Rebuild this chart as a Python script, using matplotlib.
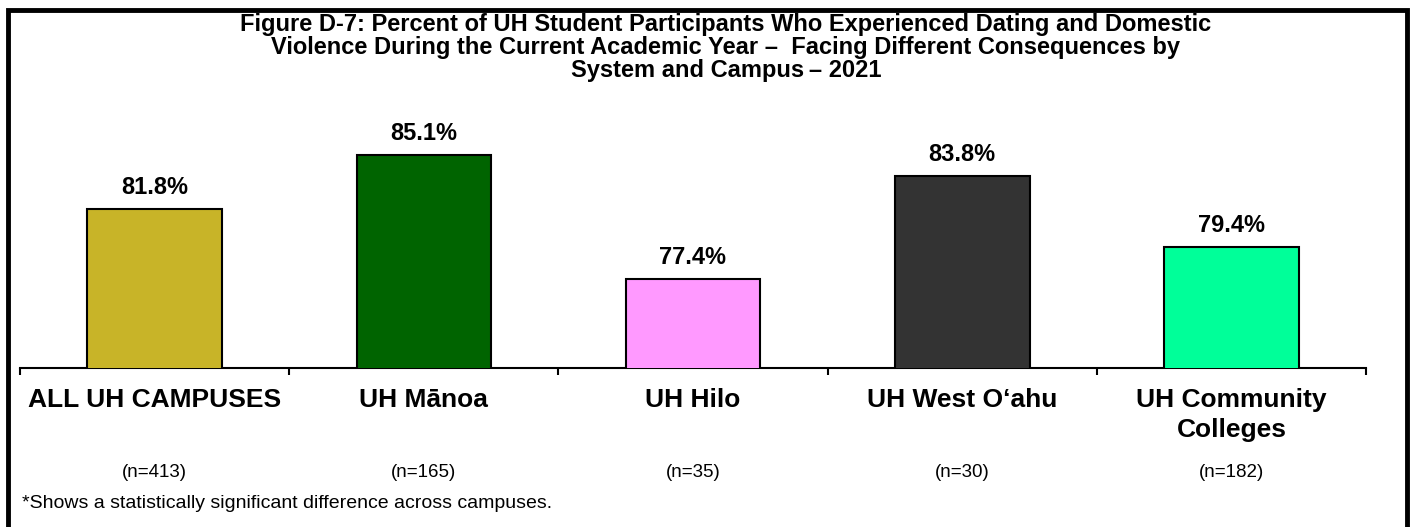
import matplotlib.pyplot as plt
from matplotlib.patches import Rectangle

plt.rcParams['font.family'] = ['Liberation Sans', 'DejaVu Sans']

categories = ['ALL UH CAMPUSES', 'UH M\u0101noa', 'UH Hilo', 'UH West O\u2018ahu', 'UH Community\nColleges']
values = [81.8, 85.1, 77.4, 83.8, 79.4]
sample_sizes = ['(n=413)', '(n=165)', '(n=35)', '(n=30)', '(n=182)']
colors = ['#C8B428', '#006400', '#FF99FF', '#333333', '#00FF99']

title = ('Figure D-7: Percent of UH Student Participants Who Experienced Dating and Domestic\n'
         'Violence During the Current Academic Year \u2013  Facing Different Consequences by\n'
         'System and Campus\u2009\u2013 2021')
footnote = '*Shows a statistically significant difference across campuses.'

W, H = 1412, 527
fig = plt.figure(figsize=(W / 100, H / 100), dpi=100)

# axes box in pixel terms
left, right, bottom, top = 20, 1366, 368, 120
ax = fig.add_axes([left / W, 1 - bottom / H, (right - left) / W, (bottom - top) / H])

x = range(len(values))
ax.bar(x, values, width=0.5, color=colors, edgecolor='black', linewidth=1.5, zorder=3)
ax.set_xlim(-0.5, len(values) - 0.5)
ax.set_ylim(71.9, 87.3)

for i, v in enumerate(values):
    ax.text(i, v + 0.93, '%.1f%%' % v, ha='center', va='baseline', fontsize=17, fontweight='bold')

for s in ['top', 'right', 'left']:
    ax.spines[s].set_visible(False)
ax.spines['bottom'].set_linewidth(1.5)
ax.set_yticks([])
ax.set_xticks([i - 0.5 for i in range(len(values) + 1)])
ax.set_xticklabels([])
ax.tick_params(axis='x', direction='out', length=5, width=1.5)

for i, c in enumerate(categories):
    ax.text(i, -0.08, c, transform=ax.get_xaxis_transform(), ha='center', va='top',
            fontsize=19, fontweight='bold', linespacing=1.3)
    ax.text(i, -0.42, sample_sizes[i], transform=ax.get_xaxis_transform(), ha='center', va='center',
            fontsize=13.5)

fig.text(0.514, 1 - 13 / H, title, ha='center', va='top', fontsize=17, fontweight='bold',
         linespacing=1.0)
fig.text(22 / W, 1 - 504 / H, footnote, ha='left', va='center', fontsize=14)

# frame around the figure
fig.patches.append(Rectangle((8 / W, -0.05), (1407 - 8) / W, 1.05 - 10 / H, transform=fig.transFigure,
                             fill=False, edgecolor='black', linewidth=3.5))

fig.savefig('out.png', dpi=100)
